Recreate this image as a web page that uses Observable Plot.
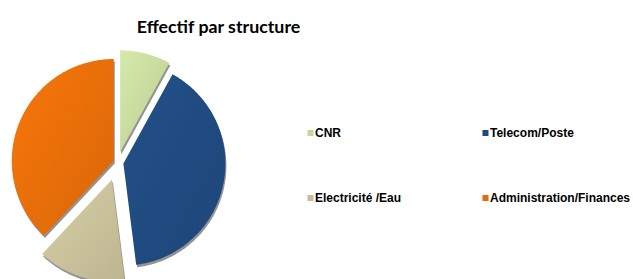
<!DOCTYPE html>
<html><head><meta charset="utf-8">
<script src="https://cdn.jsdelivr.net/npm/d3@7"></script>
<script src="https://cdn.jsdelivr.net/npm/@observablehq/plot@0.6"></script>
<style>body{margin:0;background:#fff}</style>
</head><body><div id="chart"></div>
<script>
const title = "Effectif par structure";
const categories = ["CNR", "Telecom/Poste", "Electricité /Eau", "Administration/Finances"];
const values = [8, 40, 14, 38];
const colors = ["#c3d69b", "#1f497d", "#c4bd97", "#e36c09"];

// layout
const W = 633, H = 279;
const cx = 117, cy = 162, R = 102;
const explode = [10.5, 6, 18, 4];
const legendCols = [0, 1, 0, 1], legendRows = [0, 0, 1, 1];
const legX = [310, 485], legY = [132.5, 197.5];

const total = d3.sum(values);
const polys = [];
const legend = [];
let acc = 0;
categories.forEach((name, i) => {
  const a0 = acc / total * 2 * Math.PI;
  acc += values[i];
  const a1 = acc / total * 2 * Math.PI;
  const mid = (a0 + a1) / 2;
  const ox = cx + explode[i] * Math.sin(mid), oy = cy - explode[i] * Math.cos(mid);
  polys.push({name, x: ox, y: oy});
  const n = Math.max(8, Math.ceil((a1 - a0) / 0.02));
  for (let k = 0; k <= n; k++) {
    const t = a0 + (a1 - a0) * k / n;
    polys.push({name, x: ox + R * Math.sin(t), y: oy - R * Math.cos(t)});
  }
  polys.push({name, x: ox, y: oy});
  legend.push({name, color: colors[i], x: legX[legendCols[i]], y: legY[legendRows[i]]});
});

const chart = Plot.plot({
  width: W, height: H,
  margin: 0,
  x: {domain: [0, W], axis: null},
  y: {domain: [0, H], range: [0, H], axis: null},
  color: {domain: categories, range: categories.map((d, i) => `url(#grad${i})`)},
  style: {background: "#fff"},
  marks: [
    Plot.line(polys, {x: "x", y: "y", z: "name", fill: "#3a3a3a", stroke: null, fillOpacity: 0.55, dx: 1, dy: 2.5, curve: "linear"}),
    Plot.line(polys, {x: "x", y: "y", z: "name", fill: "name", stroke: null, curve: "linear"}),
    Plot.text([title], {x: () => 218, y: () => 26.3, text: d => d, fontFamily: "Lato", fontWeight: "bold", fontSize: 17.8, fill: "#000", textAnchor: "middle"}),
    Plot.dot(legend, {x: "x", y: "y", fill: "color", symbol: "square", r: 3.4, stroke: null}),
    Plot.text(legend, {x: "x", y: "y", text: "name", dx: 4.5, textAnchor: "start", fontFamily: "Liberation Sans", fontWeight: "bold", fontSize: 12, fill: "#000"})
  ]
});
const defs = d3.select(chart).insert("defs", ":first-child");
colors.forEach((c, i) => {
  const g = defs.append("linearGradient").attr("id", `grad${i}`)
    .attr("x1", "0").attr("y1", "0").attr("x2", "1").attr("y2", "1");
  g.append("stop").attr("offset", "0%").attr("stop-color", d3.color(c).brighter(0.25).formatHex());
  g.append("stop").attr("offset", "100%").attr("stop-color", d3.color(c).darker(0.12).formatHex());
});
document.getElementById("chart").append(chart);
</script>
</body></html>
